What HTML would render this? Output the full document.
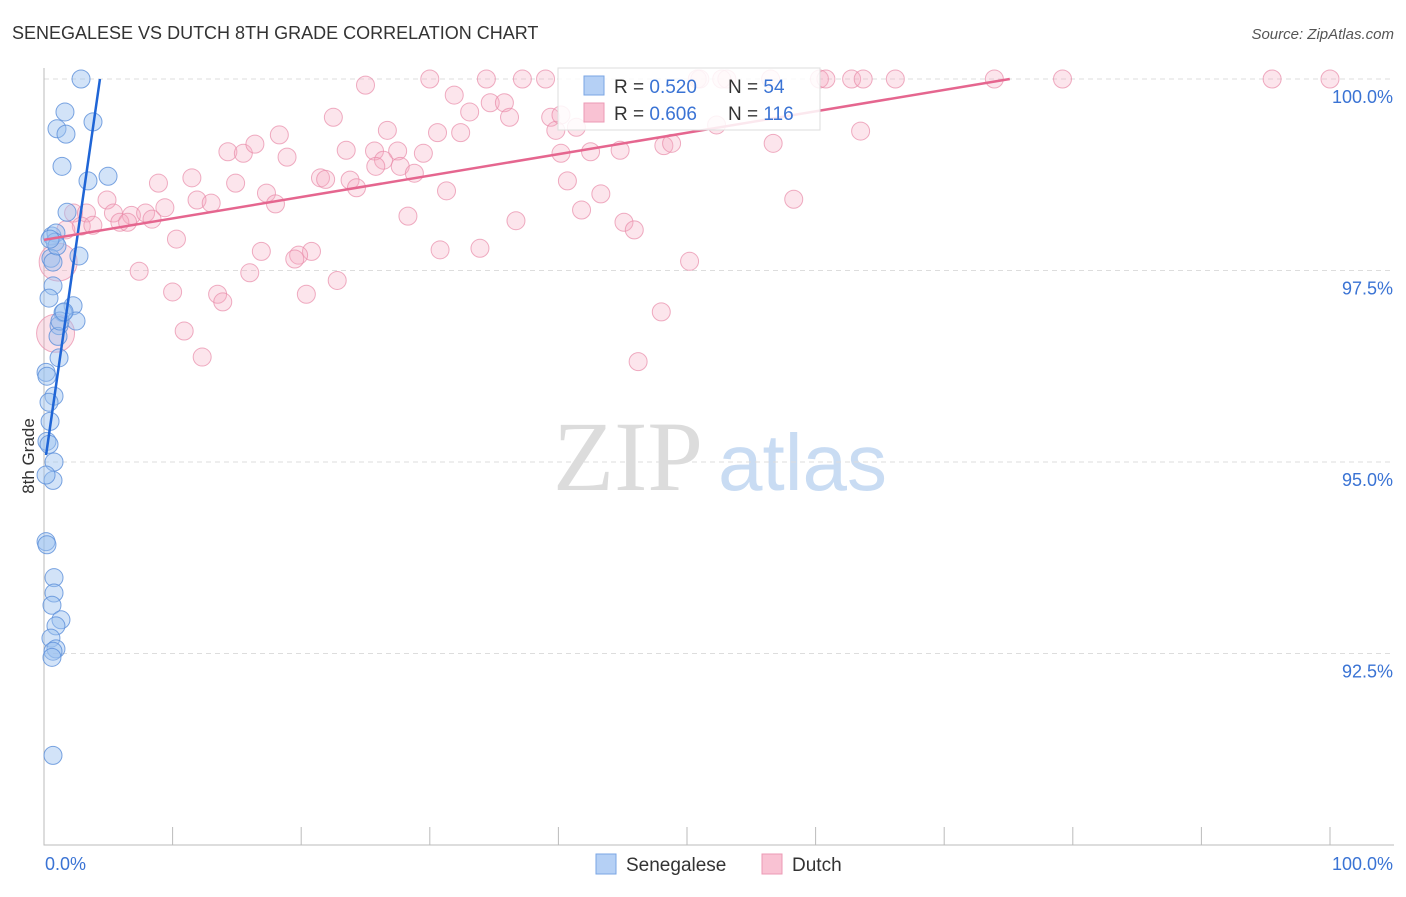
<!DOCTYPE html>
<html><head><meta charset="utf-8"><style>
body{margin:0;background:#fff;font-family:"Liberation Sans",sans-serif}
svg text{font-family:"Liberation Sans",sans-serif}
</style></head><body>
<svg id="chart" width="1406" height="892" viewBox="0 0 1406 892">
<text x="12" y="39" font-size="18" fill="#333">SENEGALESE VS DUTCH 8TH GRADE CORRELATION CHART</text>
<text x="1394" y="39" font-size="15" fill="#555" font-style="italic" text-anchor="end">Source: ZipAtlas.com</text>
<g>
<text x="553" y="490" font-size="100" fill="#dcdcdc" style="font-family:'Liberation Serif',serif">ZIP</text>
<text x="718" y="490" font-size="80" fill="#c9dcf3">atlas</text>
</g>
<g id="grid"></g>
<g id="axes"></g>
<g id="pts"></g>
<g id="lines"></g>
<text transform="translate(34,456) rotate(-90)" font-size="17" fill="#333" text-anchor="middle">8th Grade</text>
<g>
<rect x="558" y="68" width="262" height="62" fill="#fff" fill-opacity="0.85" stroke="#ddd"/>
<rect x="584" y="76" width="20" height="19" fill="#b5d0f5" stroke="#7aa6e4"/>
<rect x="584" y="103" width="20" height="19" fill="#f9c2d3" stroke="#ec9ab4"/>
<text x="614" y="93" font-size="19" fill="#333">R = <tspan fill="#3a73d4">0.520</tspan></text>
<text x="728" y="93" font-size="19" fill="#333">N = <tspan fill="#3a73d4"> 54</tspan></text>
<text x="614" y="120" font-size="19" fill="#333">R = <tspan fill="#3a73d4">0.606</tspan></text>
<text x="728" y="120" font-size="19" fill="#333">N = <tspan fill="#3a73d4">116</tspan></text>
</g>
<g>
<rect x="596" y="854" width="20" height="20" fill="#b5d0f5" stroke="#7aa6e4"/>
<text x="626" y="871" font-size="19" fill="#333">Senegalese</text>
<rect x="762" y="854" width="20" height="20" fill="#f9c2d3" stroke="#ec9ab4"/>
<text x="792" y="871" font-size="19" fill="#333">Dutch</text>
</g>
</svg>
<script>
const yTicks=[100,97.5,95,92.5];
const yTickLabels=["100.0%","97.5%","95.0%","92.5%"];
const xTickLabels=["0.0%","100.0%"];
const senX=[2.88,1.63,3.81,1.01,1.71,1.40,4.98,3.42,1.79,0.62,0.93,0.86,2.72,0.54,0.70,0.70,0.39,2.26,1.48,2.49,1.17,1.09,1.17,0.16,0.23,0.78,0.39,0.47,0.23,0.39,0.78,0.70,0.16,0.16,0.23,0.78,0.78,0.62,1.32,0.93,0.54,0.93,0.70,0.62,0.70,1.24,1.56,1.01,0.47];
const senY=[100,99.57,99.44,99.35,99.28,98.86,98.73,98.67,98.26,97.95,97.99,97.87,97.69,97.66,97.61,97.30,97.14,97.04,96.95,96.84,96.78,96.64,96.36,96.17,96.12,95.86,95.78,95.53,95.27,95.23,95.00,94.76,94.83,93.96,93.92,93.49,93.29,93.13,92.94,92.86,92.70,92.56,92.53,92.45,91.17,96.84,96.96,97.82,97.91];
const dutX=[30.0,34.4,37.2,39.0,50.8,52.7,53.1,60.3,60.8,62.8,63.7,66.2,73.9,79.2,95.5,100,51.0,56.5,25.0,31.9,22.5,34.7,35.8,33.1,36.2,39.4,26.7,30.6,32.4,39.8,41.4,40.2,18.3,63.5,52.3,14.3,15.5,16.4,18.9,23.5,25.7,27.5,29.5,40.2,42.5,44.8,48.2,48.8,56.7,26.4,25.8,27.7,28.8,21.5,21.9,23.8,8.9,11.5,14.9,17.3,24.3,31.3,40.7,43.3,11.9,13.0,18.0,58.3,4.9,2.3,3.3,5.4,6.8,7.9,9.4,8.4,5.9,6.5,2.9,3.8,1.7,28.3,36.7,41.8,45.1,45.9,10.3,16.9,20.8,19.8,19.5,30.8,33.9,50.2,7.4,16.0,22.8,10.0,13.5,13.9,20.4,48.0,10.9,12.3,46.2,1.1,0.9];
const dutY=[100,100,100,100,100,100,100,100,100,100,100,100,100,100,100,100,100,100,99.92,99.79,99.50,99.69,99.69,99.57,99.50,99.50,99.33,99.30,99.30,99.33,99.37,99.53,99.27,99.32,99.40,99.05,99.03,99.15,98.98,99.07,99.06,99.06,99.03,99.03,99.05,99.07,99.13,99.16,99.16,98.94,98.86,98.86,98.77,98.71,98.69,98.68,98.64,98.71,98.64,98.51,98.58,98.54,98.67,98.50,98.42,98.38,98.37,98.43,98.42,98.25,98.25,98.25,98.22,98.25,98.32,98.17,98.13,98.13,98.08,98.09,98.03,98.21,98.15,98.29,98.13,98.03,97.91,97.75,97.75,97.70,97.65,97.77,97.79,97.62,97.49,97.47,97.37,97.22,97.19,97.09,97.19,96.96,96.71,96.37,96.31,97.61,96.68];
const dutBig=[105,106];
const senLine=[0.16,95.09,4.35,100];
const dutLine=[0,97.9,75.1,100];
const NS="http://www.w3.org/2000/svg";
const X=v=>44+v*12.86, Y=v=>79+(100-v)*76.6;
function mk(t,a,p){const e=document.createElementNS(NS,t);for(const k in a)e.setAttribute(k,a[k]);p.appendChild(e);return e;}
const grid=document.getElementById('grid'),axes=document.getElementById('axes'),pts=document.getElementById('pts'),lines=document.getElementById('lines');
yTicks.forEach((t,i)=>{
 const g=mk('line',{x1:44,x2:1394,y1:Y(t),y2:Y(t),stroke:'#ddd','stroke-dasharray':'5,4'},grid);
 
 
 const l=mk('text',{x:1393,y:Y(t)+24,'font-size':18,fill:'#3a73d4','text-anchor':'end'},axes);
 l.textContent=yTickLabels[i];
 
 
});
const ax=mk('path',{d:'M44 68V845H1394',stroke:'#bbb',fill:'none'},axes);


for(let i=0;i<=10;i++){const tk=mk('line',{x1:X(i*10),x2:X(i*10),y1:827,y2:845,stroke:'#bbb'},axes);
 
 }
[[0,'start',45],[100,'end',1393]].forEach((d,i)=>{const t=mk('text',{x:d[2],y:870,'font-size':18,fill:'#3a73d4','text-anchor':d[1]},axes);t.textContent=xTickLabels[i];
 
 });
dutX.forEach((v,i)=>{const big=dutBig.includes(i);
 const c=mk('circle',{cx:X(v),cy:Y(dutY[i]),r:big?19:9,fill:'#f4a9c0','fill-opacity':big?0.35:0.3,stroke:'#e88aa8','stroke-opacity':0.7},pts);
 
 });
senX.forEach((v,i)=>{const c=mk('circle',{cx:X(v),cy:Y(senY[i]),r:9,fill:'#9cc0ef','fill-opacity':0.45,stroke:'#5b8fd9','stroke-opacity':0.8},pts);
 
 });
const l1=mk('line',{x1:X(senLine[0]),y1:Y(senLine[1]),x2:X(senLine[2]),y2:Y(senLine[3]),stroke:'#1f65d6','stroke-width':2.5},lines);


const l2=mk('line',{x1:X(dutLine[0]),y1:Y(dutLine[1]),x2:X(dutLine[2]),y2:Y(dutLine[3]),stroke:'#e5668f','stroke-width':2.5},lines);


</script>
</body></html>
